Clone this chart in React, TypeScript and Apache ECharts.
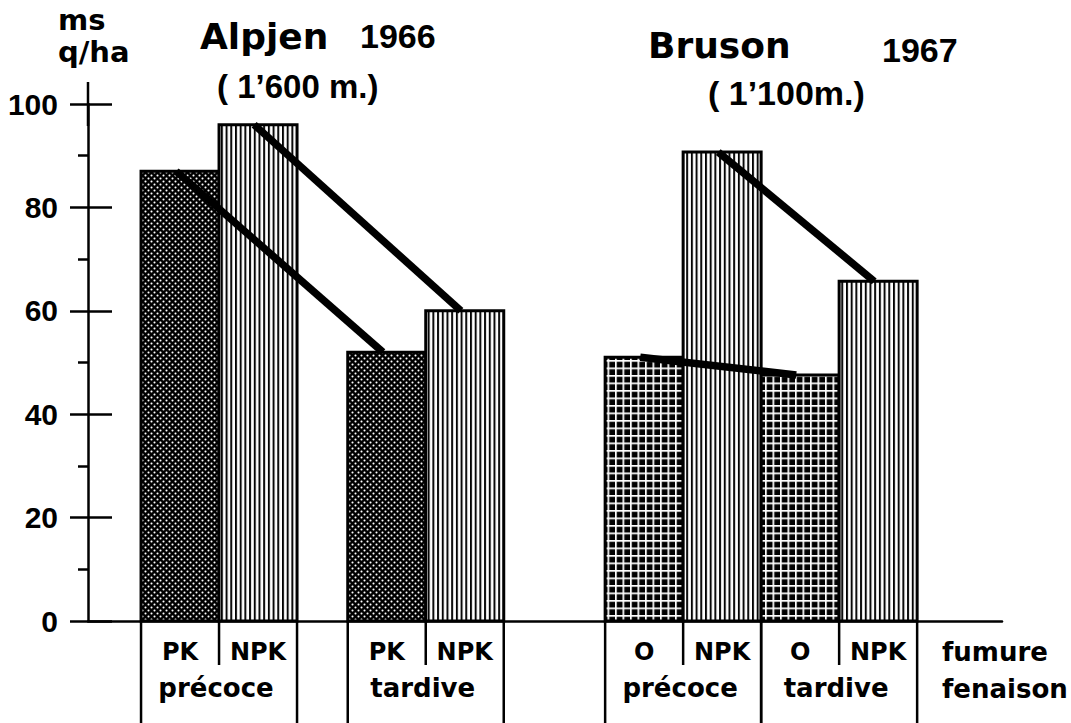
import { useEffect, useRef } from 'react';
import * as echarts from 'echarts';

// ---- data ----
const fumure = ['PK', 'NPK', 'PK', 'NPK', 'O', 'NPK', 'O', 'NPK'];
const fenaison = ['précoce', 'précoce', 'tardive', 'tardive', 'précoce', 'précoce', 'tardive', 'tardive'];
const site = ['Alpjen', 'Alpjen', 'Alpjen', 'Alpjen', 'Bruson', 'Bruson', 'Bruson', 'Bruson'];
const yieldValues = [87, 96, 52, 60, 51, 90.7, 47.6, 65.7];
const textureKind = [0, 1, 0, 1, 2, 1, 2, 1]; // 0 dots, 1 vertical lines, 2 grid
const links = [[0, 2], [1, 3], [4, 6], [5, 7]];
const yTicks = [0, 20, 40, 60, 80, 100];
const yUnitLines = ['ms', 'q/ha'];
const rowNames = ['fumure', 'fenaison'];

// ---- layout (x axis in bar widths) ----
const slotStart = [0.68, 1.68, 3.33, 4.33, 6.63, 7.63, 8.63, 9.63];
const xMax = 914 / 78;
const linkAnchor = 0.45;

const NUM_FONT = '"Liberation Sans", Arial, sans-serif';
const TXT_FONT = '"DejaVu Sans", Verdana, sans-serif';

function makePattern(w: number, h: number, scale: number, draw: (ctx: CanvasRenderingContext2D) => void) {
  const c = document.createElement('canvas');
  c.width = Math.round(w * scale);
  c.height = Math.round(h * scale);
  const ctx = c.getContext('2d') as CanvasRenderingContext2D;
  ctx.scale(scale, scale);
  draw(ctx);
  return { image: c.toDataURL(), repeat: 'repeat', imageWidth: w, imageHeight: h };
}

export default function App() {
  const ref = useRef<HTMLDivElement>(null);
  useEffect(() => {
    if (!ref.current) return;
    const chart = echarts.init(ref.current, null, { renderer: 'svg' });

    const dots = makePattern(6, 6, 4, (ctx) => {
      ctx.fillStyle = '#000';
      ctx.fillRect(0, 0, 6, 6);
      ctx.fillStyle = '#fff';
      [[1.5, 1.5], [4.5, 4.5]].forEach(([x, y]) => {
        ctx.beginPath();
        ctx.arc(x, y, 1.0, 0, Math.PI * 2);
        ctx.fill();
      });
    });
    const vlines = makePattern(4.7, 1, 10, (ctx) => {
      ctx.fillStyle = '#fff';
      ctx.fillRect(0, 0, 4.7, 1);
      ctx.fillStyle = '#000';
      ctx.fillRect(0, 0, 2.0, 1);
    });
    const grid = makePattern(7.5, 7.5, 4, (ctx) => {
      ctx.fillStyle = '#000';
      ctx.fillRect(0, 0, 7.5, 7.5);
      ctx.fillStyle = '#fff';
      ctx.fillRect(0, 0, 1.8, 7.5);
      ctx.fillRect(0, 0, 7.5, 1.8);
    });
    const patterns = [dots, vlines, grid];

    const isFirst = (i: number) => i === 0 || fenaison[i - 1] !== fenaison[i] || site[i - 1] !== site[i];
    const isLast = (i: number) =>
      i === fumure.length - 1 || fenaison[i + 1] !== fenaison[i] || site[i + 1] !== site[i];

    const txt = (text: string, x: number, y: number, font: string) => ({
      type: 'text',
      x,
      y,
      style: { text, font, fill: '#000', textAlign: 'left', textVerticalAlign: 'middle' },
    });

    const option: any = {
      animation: false,
      backgroundColor: '#fff',
      grid: { left: 88, right: 69, top: 104, bottom: 102, containLabel: false },
      xAxis: {
        type: 'value',
        min: 0,
        max: xMax,
        axisLine: { show: true, lineStyle: { color: '#000', width: 2.5 } },
        axisTick: { show: false },
        axisLabel: { show: false },
        splitLine: { show: false },
      },
      yAxis: [
        {
          type: 'value',
          min: yTicks[0],
          max: yTicks[yTicks.length - 1],
          interval: yTicks[1] - yTicks[0],
          position: 'left',
          axisLine: {
            show: true,
            onZero: false,
            symbol: ['none', 'rect'],
            symbolSize: [2.5, 44],
            lineStyle: { color: '#000', width: 2.5 },
          },
          axisTick: { show: true, length: 18, lineStyle: { color: '#000', width: 2.5 } },
          minorTick: { show: true, splitNumber: 2, length: 10, lineStyle: { color: '#000', width: 2.5 } },
          axisLabel: {
            show: true,
            margin: 30,
            color: '#000',
            fontSize: 30,
            fontWeight: 'bold',
            fontFamily: NUM_FONT,
          },
          splitLine: { show: false },
          minorSplitLine: { show: false },
        },
        {
          type: 'value',
          min: yTicks[0],
          max: yTicks[yTicks.length - 1],
          interval: yTicks[1] - yTicks[0],
          position: 'right',
          offset: -914,
          axisLine: { show: false, onZero: false },
          axisTick: { show: true, length: 24, lineStyle: { color: '#000', width: 2.5 } },
          axisLabel: { show: false },
          splitLine: { show: false },
        },
      ],
      graphic: [
        txt(yUnitLines[0], 58, 20, `bold 29px ${TXT_FONT}`),
        txt(yUnitLines[1], 58, 52, `bold 29px ${TXT_FONT}`),
        txt('Alpjen', 200, 36, `bold 36px ${TXT_FONT}`),
        txt('1966', 360, 36, `bold 34px ${NUM_FONT}`),
        txt('( 1’600 m.)', 217, 86, `bold 33px ${NUM_FONT}`),
        txt('Bruson', 648, 45, `bold 36px ${TXT_FONT}`),
        txt('1967', 882, 50, `bold 34px ${NUM_FONT}`),
        txt('( 1’100m.)', 708, 93, `bold 34px ${NUM_FONT}`),
        txt(rowNames[0], 942, 652, `bold 26px ${TXT_FONT}`),
        txt(rowNames[1], 942, 689, `bold 26px ${TXT_FONT}`),
      ],
      series: [
        {
          type: 'custom',
          coordinateSystem: 'cartesian2d',
          clip: false,
          z: 2,
          data: fumure.map((_, i) => [slotStart[i], yieldValues[i]]),
          encode: { x: 0, y: 1 },
          renderItem: (params: any, api: any) => {
            const i = params.dataIndex;
            const s = api.value(0);
            const v = api.value(1);
            const tl = api.coord([s, v]);
            const br = api.coord([s + 1, 0]);
            const w = br[0] - tl[0];
            const base = br[1];
            const children: any[] = [
              {
                type: 'rect',
                shape: { x: tl[0], y: tl[1], width: w, height: base - tl[1] },
                style: { fill: patterns[textureKind[i]], stroke: '#000', lineWidth: 3 },
              },
              {
                type: 'line',
                shape: { x1: tl[0], y1: base, x2: tl[0], y2: base + (isFirst(i) ? 106 : 44) },
                style: { stroke: '#000', lineWidth: 2.5 },
              },
              {
                type: 'text',
                style: {
                  text: fumure[i],
                  x: tl[0] + w / 2,
                  y: base + 31,
                  fill: '#000',
                  font: `bold 24px ${TXT_FONT}`,
                  textAlign: 'center',
                  textVerticalAlign: 'middle',
                },
              },
            ];
            if (isLast(i)) {
              children.push({
                type: 'line',
                shape: { x1: br[0], y1: base, x2: br[0], y2: base + 106 },
                style: { stroke: '#000', lineWidth: 2.5 },
              });
            }
            if (isFirst(i)) {
              children.push({
                type: 'text',
                style: {
                  text: fenaison[i],
                  x: br[0] - 3,
                  y: base + 67,
                  fill: '#000',
                  font: `bold 26px ${TXT_FONT}`,
                  textAlign: 'center',
                  textVerticalAlign: 'middle',
                },
              });
            }
            return { type: 'group', children };
          },
        },
        {
          type: 'custom',
          coordinateSystem: 'cartesian2d',
          clip: false,
          z: 5,
          data: links.map(([a, b]) => [
            slotStart[a] + linkAnchor,
            yieldValues[a],
            slotStart[b] + linkAnchor,
            yieldValues[b],
          ]),
          encode: { x: [0, 2], y: [1, 3] },
          renderItem: (_params: any, api: any) => {
            const p = api.coord([api.value(0), api.value(1)]);
            const q = api.coord([api.value(2), api.value(3)]);
            return {
              type: 'line',
              shape: { x1: p[0], y1: p[1], x2: q[0], y2: q[1] },
              style: { stroke: '#000', lineWidth: 7.5, lineCap: 'butt' },
            };
          },
        },
      ],
    };

    chart.setOption(option);
    return () => chart.dispose();
  }, []);

  return (
    <div
      ref={ref}
      style={{ position: 'absolute', left: 0, top: 0, width: 1071, height: 723, background: '#fff' }}
    />
  );
}
